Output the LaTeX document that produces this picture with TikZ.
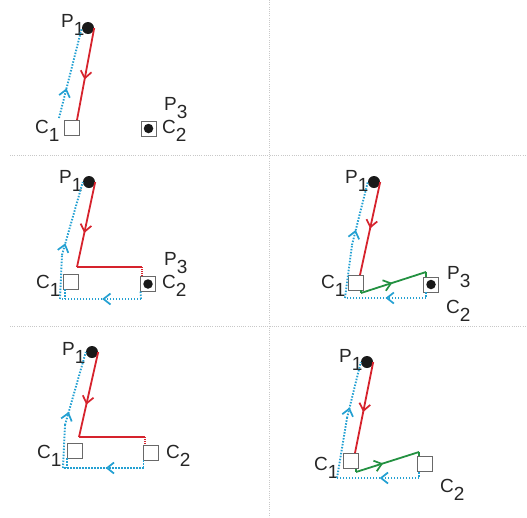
\documentclass[tikz,border=0pt]{standalone}
\usepackage{fontspec}
\setmainfont{Liberation Sans}
\usetikzlibrary{arrows.meta,decorations.markings}
\definecolor{myred}{RGB}{214,35,45}
\definecolor{myblue}{RGB}{35,160,210}
\definecolor{mygreen}{RGB}{35,145,65}
\definecolor{boxgray}{RGB}{105,105,105}
\definecolor{gridgray}{RGB}{200,200,200}
\newcommand{\lblsub}[2]{#1\raisebox{-8pt}{#2}}
\tikzset{
 box/.style={draw=boxgray, fill=white, line width=1pt, minimum size=15pt, inner sep=0pt, outer sep=0pt},
 pdot/.style={circle, fill=black!90, minimum size=12pt, inner sep=0pt},
 idot/.style={circle, fill=black!90, minimum size=9.5pt, inner sep=0pt},
 lbl/.style={font=\fontsize{19}{20}\selectfont, inner sep=0pt, anchor=base west, text=black!85},
 redl/.style={draw=myred, line width=1.8pt},
 redd/.style={draw=myred, line width=1.3pt, dash pattern=on 1pt off 1pt},
 bluel/.style={draw=myblue, line width=1.9pt, dash pattern=on 1.5pt off 1.5pt},
 greenl/.style={draw=mygreen, line width=1.8pt, line join=round},
 marr/.style 2 args={postaction={decorate, decoration={markings, mark=at position #1 with {\arrow[#2, line width=1.7pt]{Straight Barb[length=7pt,width=11pt]}}}}},
 gridl/.style={draw=gridgray, line width=0.8pt, dash pattern=on 0.8pt off 1.4pt},
}
\begin{document}
\begin{tikzpicture}[x=1pt,y=-1pt]
\useasboundingbox (0,0) rectangle (527,517);
% grid
\draw[gridl] (10,155) -- (527,155);
\draw[gridl] (10,326) -- (527,326);
\draw[gridl] (269,0) -- (269,517);

% ---------- panel 1 ----------
\node[lbl] (lp1a) at (61,27) {\lblsub{P}{1}};
\node[lbl] (lc1a) at (35,133) {\lblsub{C}{1}};
\node[lbl] (lp3a) at (164,110) {\lblsub{P}{3}};
\node[lbl] (lc2a) at (162,133) {\lblsub{C}{2}};
\node[pdot] (p1a) at (88,28) {};
\node[box] (c1a) at (71.5,127.5) {};
\node[box] (c2a) at (148.5,128.5) {};
\node[idot] (d2a) at (c2a.center) {};
\coordinate (r1a) at (77,120);
\coordinate (b1a) at (59,118);
\draw[redl, marr={0.56}{myred}] (p1a.east) -- (r1a);
\draw[bluel, marr={0.33}{myblue}] (b1a) -- (p1a.west);

% ---------- panel 2 ----------
\node[lbl] (lp1b) at (59,183) {\lblsub{P}{1}};
\node[lbl] (lc1b) at (36,288) {\lblsub{C}{1}};
\node[lbl] (lp3b) at (164,265) {\lblsub{P}{3}};
\node[lbl] (lc2b) at (162,288) {\lblsub{C}{2}};
\node[pdot] (p1b) at (89,182) {};
\node[box] (c1b) at (71,281.5) {};
\node[box] (c2b) at (148,284) {};
\node[idot] (d2b) at (c2b.center) {};
\coordinate (r1b) at (77,267);
\coordinate (r2b) at (142,267);
\coordinate (r3b) at (142,276);
\draw[redl, marr={0.6}{myred}] (p1b.east) -- (r1b);
\draw[redl] (r1b) -- (r2b);
\draw[redd] (r2b) -- (r3b);
\coordinate (b1b) at (141,299);
\coordinate (b2b) at (60,299);
\coordinate (b3b) at (62,255);
\coordinate (b4b) at (65,289);
\coordinate (b5b) at (65,299);
\draw[bluel] (c2b.south west) -- (b1b);
\draw[bluel, marr={0.48}{myblue}] (b1b) -- (b2b);
\draw[bluel] (b2b) -- (b3b);
\draw[bluel, marr={0.16}{myblue}] (b3b) -- (p1b.west);
\draw[bluel] (b4b) -- (b5b);

% ---------- panel 3 ----------
\node[lbl] (lp1c) at (345,183) {\lblsub{P}{1}};
\node[lbl] (lc1c) at (321,288) {\lblsub{C}{1}};
\node[lbl] (lp3c) at (447,279) {\lblsub{P}{3}};
\node[lbl] (lc2c) at (446,313) {\lblsub{C}{2}};
\node[pdot] (p1c) at (374,182) {};
\node[box] (c1c) at (356,282.5) {};
\node[box] (c2c) at (431,284.5) {};
\node[idot] (d2c) at (c2c.center) {};
\coordinate (r1c) at (360,275);
\draw[redl, marr={0.5}{myred}] (p1c.east) -- (r1c);
\coordinate (g0c) at (361,290);
\coordinate (g1c) at (361,293);
\coordinate (g2c) at (426,272);
\coordinate (g3c) at (426,277);
\draw[greenl] (g0c) -- (g1c);
\draw[greenl, marr={0.48}{mygreen}] (g1c) -- (g2c);
\draw[greenl] (g2c) -- (g3c);
\coordinate (b0c) at (426,292);
\coordinate (b1c) at (426,298);
\coordinate (b2c) at (345,298);
\coordinate (b3c) at (352,245);
\draw[bluel] (b0c) -- (b1c);
\draw[bluel, marr={0.5}{myblue}] (b1c) -- (b2c);
\draw[bluel] (b2c) -- (b3c);
\draw[bluel, marr={0.24}{myblue}] (b3c) -- (p1c.west);

% ---------- panel 4 ----------
\node[lbl] (lp1d) at (62,355) {\lblsub{P}{1}};
\node[lbl] (lc1d) at (37,458) {\lblsub{C}{1}};
\node[lbl] (lc2d) at (166,458) {\lblsub{C}{2}};
\node[pdot] (p1d) at (92,352) {};
\node[box] (c1d) at (74.5,450.5) {};
\node[box] (c2d) at (151,452.5) {};
\coordinate (r1d) at (79,437);
\coordinate (r2d) at (145,437);
\coordinate (r3d) at (145,445);
\draw[redl, marr={0.62}{myred}] (p1d.east) -- (r1d);
\draw[redl] (r1d) -- (r2d);
\draw[redd] (r2d) -- (r3d);
\coordinate (b1d) at (143.5,468);
\coordinate (b2d) at (63,468);
\coordinate (b3d) at (65,425);
\coordinate (b4d) at (67,458);
\coordinate (b5d) at (67,468);
\draw[bluel] (c2d.south west) -- (b1d);
\draw[bluel, marr={0.47}{myblue}] (b1d) -- (b2d);
\draw[bluel] (b2d) -- (b3d);
\draw[bluel, marr={0.18}{myblue}] (b3d) -- (p1d.west);
\draw[bluel] (b4d) -- (b5d);

% ---------- panel 5 ----------
\node[lbl] (lp1e) at (339,362) {\lblsub{P}{1}};
\node[lbl] (lc1e) at (314,470) {\lblsub{C}{1}};
\node[lbl] (lc2e) at (440,492) {\lblsub{C}{2}};
\node[pdot] (p1e) at (367,362) {};
\node[box] (c1e) at (350.5,461) {};
\node[box] (c2e) at (425,464) {};
\coordinate (r1e) at (355,453);
\draw[redl, marr={0.55}{myred}] (p1e.east) -- (r1e);
\coordinate (g0e) at (356,469);
\coordinate (g1e) at (356,472);
\coordinate (g2e) at (419,452);
\coordinate (g3e) at (419,456);
\draw[greenl] (g0e) -- (g1e);
\draw[greenl, marr={0.43}{mygreen}] (g1e) -- (g2e);
\draw[greenl] (g2e) -- (g3e);
\coordinate (b0e) at (419,472);
\coordinate (b1e) at (419,478);
\coordinate (b2e) at (337,478);
\coordinate (b3e) at (347,418);
\draw[bluel] (b0e) -- (b1e);
\draw[bluel, marr={0.48}{myblue}] (b1e) -- (b2e);
\draw[bluel] (b2e) -- (b3e);
\draw[bluel, marr={0.19}{myblue}] (b3e) -- (p1e.west);
\end{tikzpicture}
\end{document}
